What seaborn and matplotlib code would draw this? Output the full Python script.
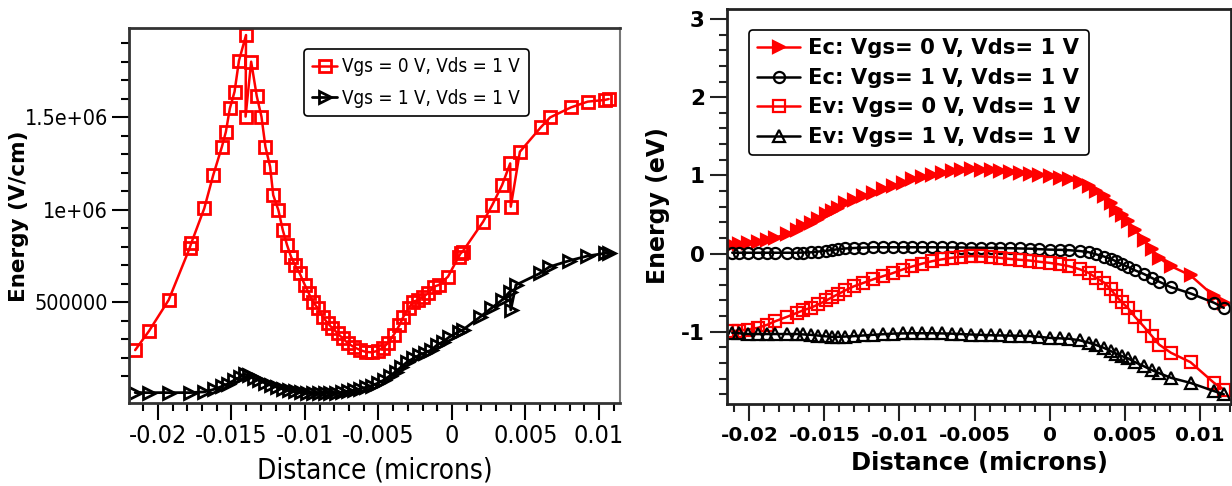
import numpy as np
import pandas as pd
import matplotlib
matplotlib.use("Agg")
import matplotlib.pyplot as plt
import seaborn as sns
from matplotlib import font_manager
from matplotlib.ticker import FixedLocator, NullFormatter

# ---------------- data: left panel (electric field, V/cm) ----------------
xl_red = [-0.02155, -0.02061, -0.01927, -0.01785, -0.01774, -0.01685, -0.01624, -0.01565,
          -0.01538, -0.01511, -0.01479, -0.01449, -0.01401, -0.01404, -0.01366, -0.01328,
          -0.01296, -0.01269, -0.01237, -0.01216, -0.01181, -0.01151, -0.01122, -0.01095,
          -0.01068, -0.01036, -0.01001, -0.00974, -0.00947, -0.00912, -0.00880, -0.00845,
          -0.00813, -0.00778, -0.00743, -0.00706, -0.00666, -0.00625, -0.00585, -0.00545,
          -0.00505, -0.00470, -0.00437, -0.00397, -0.00357, -0.00330, -0.00295, -0.00263,
          -0.00228, -0.00196, -0.00161, -0.00123, -0.00089, -0.00027, 0.00046, 0.00059,
          0.00072, 0.00212, 0.00274, 0.00341, 0.00396, 0.00400, 0.00462, 0.00604,
          0.00668, 0.00810, 0.00923, 0.01039, 0.01066]
yl_red = [242e3, 345e3, 513e3, 792e3, 819e3, 1008e3, 1188e3, 1341e3,
          1422e3, 1548e3, 1639e3, 1806e3, 1945e3, 1504e3, 1801e3, 1615e3,
          1504e3, 1341e3, 1233e3, 1080e3, 999e3, 891e3, 810e3, 747e3,
          702e3, 657e3, 594e3, 549e3, 504e3, 468e3, 423e3, 387e3,
          360e3, 333e3, 305e3, 278e3, 258e3, 242e3, 232e3, 230e3,
          238e3, 255e3, 278e3, 323e3, 377e3, 423e3, 468e3, 504e3,
          513e3, 531e3, 549e3, 585e3, 594e3, 639e3, 747e3, 765e3,
          774e3, 936e3, 1026e3, 1134e3, 1251e3, 1017e3, 1314e3, 1446e3,
          1500e3, 1554e3, 1585e3, 1594e3, 1599e3]

xl_blk = [-0.02155, -0.02061, -0.01927, -0.01785, -0.01685, -0.01618, -0.01565, -0.01524,
          -0.01484, -0.01444, -0.01409, -0.01382, -0.01350, -0.01310, -0.01270, -0.01229,
          -0.01189, -0.01149, -0.01108, -0.01068, -0.01028, -0.00988, -0.00947, -0.00907,
          -0.00867, -0.00827, -0.00786, -0.00746, -0.00706, -0.00666, -0.00625, -0.00585,
          -0.00545, -0.00505, -0.00464, -0.00424, -0.00384, -0.00344, -0.00303, -0.00263,
          -0.00223, -0.00183, -0.00142, -0.00102, -0.00062, -0.00021, 0.00046, 0.00072,
          0.00193, 0.00266, 0.00341, 0.00394, 0.00400, 0.00435, 0.00596, 0.00663,
          0.00797, 0.00918, 0.01039, 0.01066]
yl_blk = [12e3, 12e3, 12e3, 12e3, 16e3, 30e3, 46e3, 60e3,
          78e3, 95e3, 111e3, 107e3, 93e3, 78e3, 63e3, 51e3,
          41e3, 32e3, 25e3, 19e3, 14e3, 11e3, 9e3, 8e3,
          8e3, 9e3, 11e3, 14e3, 19e3, 25e3, 32e3, 41e3,
          50e3, 63e3, 80e3, 102e3, 125e3, 152e3, 179e3, 197e3,
          215e3, 228e3, 242e3, 269e3, 287e3, 311e3, 341e3, 350e3,
          422e3, 467e3, 513e3, 558e3, 459e3, 594e3, 656e3, 692e3,
          725e3, 750e3, 765e3, 768e3]

# ---------------- data: right panel (band energies, eV) ----------------
xr = [-0.02115, -0.0207, -0.0201, -0.01945, -0.0188, -0.01828, -0.0175, -0.01684,
      -0.0164, -0.01593, -0.0154, -0.01488, -0.0145, -0.0141, -0.0136, -0.01305,
      -0.0124, -0.01175, -0.0111, -0.01044, -0.0098, -0.00914, -0.0085, -0.00783,
      -0.0072, -0.00653, -0.0059, -0.00522, -0.0046, -0.00392, -0.0033, -0.00261,
      -0.002, -0.00131, -0.0007, 0.0, 0.0007, 0.0013, 0.002, 0.00261,
      0.0031, 0.00366, 0.0041, 0.00444, 0.0048, 0.00522, 0.0057, 0.00627,
      0.0068, 0.00731, 0.0081, 0.0094, 0.01097, 0.01162]
ec_vg0 = [0.115, 0.125, 0.136, 0.145, 0.17, 0.20, 0.255, 0.307,
          0.35, 0.39, 0.445, 0.50, 0.545, 0.584, 0.64, 0.69,
          0.735, 0.776, 0.82, 0.861, 0.905, 0.947, 0.98, 1.01,
          1.035, 1.053, 1.065, 1.075, 1.072, 1.066, 1.055, 1.04,
          1.03, 1.023, 1.008, 0.99, 0.97, 0.947, 0.91, 0.861,
          0.80, 0.733, 0.65, 0.563, 0.49, 0.414, 0.30, 0.179,
          0.06, -0.055, -0.162, -0.28, -0.546, -0.631]
ec_vg1 = [0.01, 0.01, 0.01, 0.01, 0.01, 0.01, 0.01, 0.01,
          0.012, 0.015, 0.025, 0.035, 0.045, 0.055, 0.065, 0.07,
          0.075, 0.08, 0.08, 0.08, 0.08, 0.08, 0.08, 0.08,
          0.079, 0.078, 0.077, 0.075, 0.074, 0.072, 0.07, 0.068,
          0.065, 0.062, 0.056, 0.05, 0.047, 0.043, 0.032, 0.017,
          -0.01, -0.04, -0.07, -0.10, -0.135, -0.17, -0.215, -0.26,
          -0.31, -0.36, -0.43, -0.51, -0.63, -0.695]
ev_vg0 = [-0.994, -0.985, -0.972, -0.951, -0.91, -0.866, -0.81, -0.759,
          -0.725, -0.695, -0.65, -0.60, -0.56, -0.52, -0.47, -0.42,
          -0.375, -0.33, -0.29, -0.25, -0.205, -0.165, -0.13, -0.098,
          -0.075, -0.055, -0.043, -0.034, -0.037, -0.043, -0.055, -0.07,
          -0.08, -0.09, -0.105, -0.119, -0.14, -0.162, -0.2, -0.247,
          -0.31, -0.375, -0.46, -0.545, -0.62, -0.695, -0.81, -0.93,
          -1.05, -1.165, -1.27, -1.39, -1.655, -1.74]
ev_vg1 = [-1.015, -1.02, -1.03, -1.03, -1.03, -1.03, -1.03, -1.03,
          -1.035, -1.04, -1.05, -1.06, -1.065, -1.066, -1.062, -1.057,
          -1.048, -1.04, -1.032, -1.025, -1.022, -1.02, -1.02, -1.02,
          -1.022, -1.025, -1.03, -1.036, -1.04, -1.045, -1.048, -1.05,
          -1.052, -1.055, -1.065, -1.079, -1.085, -1.09, -1.11, -1.14,
          -1.17, -1.21, -1.25, -1.28, -1.31, -1.34, -1.39, -1.44,
          -1.49, -1.53, -1.59, -1.655, -1.76, -1.80]

xtick_vals = [-0.02, -0.015, -0.01, -0.005, 0.0, 0.005, 0.01]
xtick_text = ["-0.02", "-0.015", "-0.01", "-0.005", "0", "0.005", "0.01"]
ytick_left_vals = [5e5, 1e6, 1.5e6]
ytick_left_text = ["500000", "1e+06", "1.5e+06"]
ytick_right_vals = [-1, 0, 1, 2, 3]
ytick_right_text = ["-1", "0", "1", "2", "3"]

# ---------------- style ----------------
sns.set_style("white")
avail = {f.name for f in font_manager.fontManager.ttflist}
if "Liberation Sans Narrow" in avail:
    narrow = dict(family=["Liberation Sans Narrow", "DejaVu Sans"])
elif "DejaVu Sans Condensed" in avail:
    narrow = dict(family=["DejaVu Sans Condensed", "DejaVu Sans"])
else:
    narrow = dict(family=["DejaVu Sans"], stretch="condensed")
plt.rcParams["font.family"] = ["DejaVu Sans"]
plt.rcParams.update({"text.color": "black", "axes.labelcolor": "black",
                     "xtick.color": "black", "ytick.color": "black"})

fig = plt.figure(figsize=(12.32, 4.86), dpi=100)
axL = fig.add_axes([129 / 1232, 1 - 403 / 486, (620 - 129) / 1232, (403 - 28) / 486])
axR = fig.add_axes([727 / 1232, 1 - 404 / 486, (1231 - 727) / 1232, (404 - 9) / 486])

# ---------------- left panel ----------------
dfL1 = pd.DataFrame({"x": xl_red, "y": yl_red})
dfL2 = pd.DataFrame({"x": xl_blk, "y": yl_blk})
sns.lineplot(data=dfL1, x="x", y="y", ax=axL, sort=False, estimator=None, color="#ff0000",
             lw=1.8, marker="s", markersize=8, markerfacecolor="none",
             markeredgecolor="#ff0000", markeredgewidth=2.0, label="Vgs = 0 V, Vds = 1 V")
sns.lineplot(data=dfL2, x="x", y="y", ax=axL, sort=False, estimator=None, color="black",
             lw=2.0, marker=">", markersize=9, markerfacecolor="none",
             markeredgecolor="black", markeredgewidth=2.0, label="Vgs = 1 V, Vds = 1 V")
axL.set_xlim(-0.02197, 0.01143)
axL.set_ylim(-44000, 1983000)
axL.xaxis.set_major_locator(FixedLocator(xtick_vals))
axL.set_xticklabels(xtick_text, fontsize=18, **narrow)
axL.xaxis.set_minor_locator(FixedLocator([v / 1000 for v in range(-21, 12) if v % 5 != 0]))
axL.yaxis.set_major_locator(FixedLocator(ytick_left_vals))
axL.set_yticklabels(ytick_left_text, fontsize=15.5, **narrow)
axL.yaxis.set_minor_locator(FixedLocator([v * 1e5 for v in range(1, 20) if v % 5 != 0]))
axL.yaxis.set_minor_formatter(NullFormatter())
axL.tick_params(which="major", direction="out", length=12, width=1.5, color="black", pad=3,
                bottom=True, left=True)
axL.tick_params(which="minor", direction="out", length=6, width=1.5, color="black",
                bottom=True, left=True)
axL.set_xlabel("Distance (microns)", fontsize=20, labelpad=6, **narrow)
axL.set_ylabel("Energy (V/cm)", fontsize=15.5, fontweight="bold")
axL.yaxis.set_label_coords(-(129 - 29) / 491, (403 - 216) / 375)
for s in ["left", "bottom", "top"]:
    axL.spines[s].set_color("#333333")
    axL.spines[s].set_linewidth(2)
axL.spines["right"].set_color("#777777")
axL.spines["right"].set_linewidth(1.5)
legL = axL.legend(loc="upper left", bbox_to_anchor=((304 - 129) / 491, (403 - 49) / 375),
                  frameon=True, fancybox=True, edgecolor="black", framealpha=1,
                  prop=dict(size=13.5, **narrow), handlelength=1.3, handletextpad=0.3,
                  borderpad=0.45, labelspacing=0.65, borderaxespad=0)
legL.get_frame().set_linewidth(1.2)

# ---------------- right panel ----------------
dfR = pd.DataFrame({"x": xr, "ec0": ec_vg0, "ec1": ec_vg1, "ev0": ev_vg0, "ev1": ev_vg1})
specs = [("ec0", "#ff0000", ">", "#ff0000", "Ec: Vgs= 0 V, Vds= 1 V"),
         ("ec1", "black", "o", "none", "Ec: Vgs= 1 V, Vds= 1 V"),
         ("ev0", "#ff0000", "s", "none", "Ev: Vgs= 0 V, Vds= 1 V"),
         ("ev1", "black", "^", "none", "Ev: Vgs= 1 V, Vds= 1 V")]
for col, c, m, fc, lab in specs:
    sns.lineplot(data=dfR, x="x", y=col, ax=axR, sort=False, estimator=None, color=c, lw=1.8,
                 marker=m, markersize=8, markerfacecolor=fc, markeredgecolor=c,
                 markeredgewidth=1.6, label=lab)
axR.set_xlim(-0.0215, 0.0121)
axR.set_ylim(-1.925, 3.128)
axR.xaxis.set_major_locator(FixedLocator(xtick_vals))
axR.set_xticklabels(xtick_text, fontsize=14.5, fontweight="bold")
axR.xaxis.set_minor_locator(FixedLocator([v / 1000 for v in range(-21, 13) if v % 5 != 0]))
axR.yaxis.set_major_locator(FixedLocator(ytick_right_vals))
axR.set_yticklabels(ytick_right_text, fontsize=15.5, fontweight="bold")
axR.yaxis.set_minor_locator(FixedLocator([v / 5 for v in range(-9, 16) if v % 5 != 0]))
axR.tick_params(which="major", direction="out", length=12, width=1.5, color="#222222", pad=4,
                bottom=True, left=True)
axR.tick_params(which="minor", direction="out", length=6, width=1.5, color="#222222",
                bottom=True, left=True)
axR.set_xlabel("Distance (microns)", fontsize=17.5, fontweight="bold", labelpad=4)
axR.set_ylabel("Energy (eV)", fontsize=17, fontweight="bold")
axR.yaxis.set_label_coords(-(727 - 670) / 504, (404 - 206) / 395)
for s in axR.spines.values():
    s.set_color("#222222")
    s.set_linewidth(2)
legR = axR.legend(loc="upper left", bbox_to_anchor=((749 - 727) / 504, (404 - 30) / 395),
                  frameon=True, fancybox=True, edgecolor="black", framealpha=1,
                  prop=dict(size=15.2, weight="bold"), handlelength=2.0, handletextpad=0.4,
                  borderpad=0.4, labelspacing=0.45, borderaxespad=0)
legR.get_frame().set_linewidth(1.2)

fig.savefig("out.png", dpi=100, facecolor="white")
